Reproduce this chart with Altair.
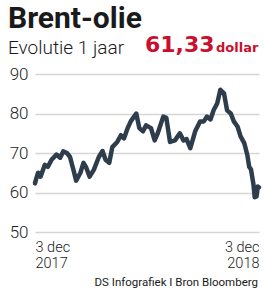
import altair as alt
import pandas as pd

dates = ["2017-12-03","2017-12-05","2017-12-08","2017-12-12","2017-12-19","2017-12-24","2017-12-30",
         "2018-01-07","2018-01-13","2018-01-18","2018-01-24","2018-01-29","2018-02-04","2018-02-08",
         "2018-02-15","2018-02-20","2018-02-24","2018-03-02","2018-03-09","2018-03-17","2018-03-23",
         "2018-03-28","2018-04-03","2018-04-08","2018-04-16","2018-04-22","2018-04-27","2018-05-03",
         "2018-05-08","2018-05-17","2018-05-22","2018-05-28","2018-06-02","2018-06-10","2018-06-16",
         "2018-06-21","2018-06-30","2018-07-05","2018-07-11","2018-07-19","2018-07-27","2018-08-02",
         "2018-08-07","2018-08-13","2018-08-21","2018-08-29","2018-09-04","2018-09-09","2018-09-15",
         "2018-09-20","2018-09-26","2018-10-01","2018-10-07","2018-10-12","2018-10-18","2018-10-23",
         "2018-10-29","2018-11-03","2018-11-09","2018-11-14","2018-11-17","2018-11-20","2018-11-24",
         "2018-11-26","2018-11-29","2018-12-01","2018-12-03"]
prices = [62.3,63.5,65.0,64.0,67.0,66.5,68.3,
          69.6,68.8,70.4,70.0,69.0,65.5,63.0,
          65.0,67.5,66.5,64.0,65.8,69.0,70.5,
          68.3,67.5,71.5,72.8,74.5,73.7,76.3,
          78.0,80.0,76.3,75.5,77.0,76.3,73.2,
          75.0,79.2,78.9,72.8,73.2,75.0,73.2,
          73.5,71.2,75.5,78.0,78.0,79.2,78.5,
          80.8,82.6,86.0,85.1,80.8,80.0,78.0,
          76.7,74.2,72.5,69.5,66.5,65.8,62.0,
          58.8,59.0,61.5,61.3]

y_ticks = [50, 60, 70, 80, 90]

title_text = "Brent-olie"
subtitle_text = "Evolutie 1 jaar"
value_text = "61,33"
unit_text = "dollar"
source_text = "DS Infografiek I Bron Bloomberg"

df = pd.DataFrame({"date": dates, "price": prices})

W, H = 224, 158
RED = "#c8102e"

line = alt.Chart(df).mark_line(
    color="#2e3d4b", strokeWidth=4.5, strokeJoin="round", strokeCap="round"
).encode(
    x=alt.X("date:T", scale=alt.Scale(domain=[dates[0], dates[-1]], nice=False),
            axis=alt.Axis(values=[{"year": 2017, "month": 12, "date": 3},
                                  {"year": 2018, "month": 12, "date": 3}],
                          labelExpr="['3 dec', timeFormat(datum.value, '%Y')]",
                          labelFlush=True, labelPadding=8, labelLineHeight=16,
                          labelFont="Roboto", labelFontWeight=300, labelFontSize=14.5,
                          labelColor="#222", domain=False, ticks=False, grid=False, title=None)),
    y=alt.Y("price:Q", scale=alt.Scale(domain=[50, 90], nice=False, zero=False),
            axis=alt.Axis(values=y_ticks, labelPadding=7, labelFont="Roboto", labelFontWeight=300,
                          labelFontSize=17, labelColor="#222", domain=False, ticks=False,
                          grid=True, gridColor="#d6d6d6", gridWidth=1.3, title=None)),
)

def txt(text, x, y, size, weight, color, font="Roboto", align="left"):
    return alt.Chart(pd.DataFrame({"t": [text]})).mark_text(
        align=align, baseline="alphabetic", font=font, fontSize=size, fontWeight=weight,
        color=color
    ).encode(text="t:N", x=alt.value(x), y=alt.value(y))

title = txt(title_text, -27, -46, 30, 700, "#1a1a1a")
subtitle = txt(subtitle_text, -27, -20, 19, 300, "#1a1a1a")
value = txt(value_text, 110, -22, 22, 700, RED, font="DejaVu Sans")
unit = txt(unit_text, 181, -22, 13, 700, RED, font="DejaVu Sans")
source = txt(source_text, 223, 212, 11.5, 400, "#1a1a1a", align="right")

chart = alt.layer(line, title, subtitle, value, unit, source).properties(
    width=W, height=H,
    padding={"left": 35, "top": 74, "right": 6, "bottom": 63},
    autosize=alt.AutoSizeParams(type="none"),
    background="white",
).configure_view(stroke=None)

chart.save("out.html", embed_options={"renderer": "svg", "actions": False})
